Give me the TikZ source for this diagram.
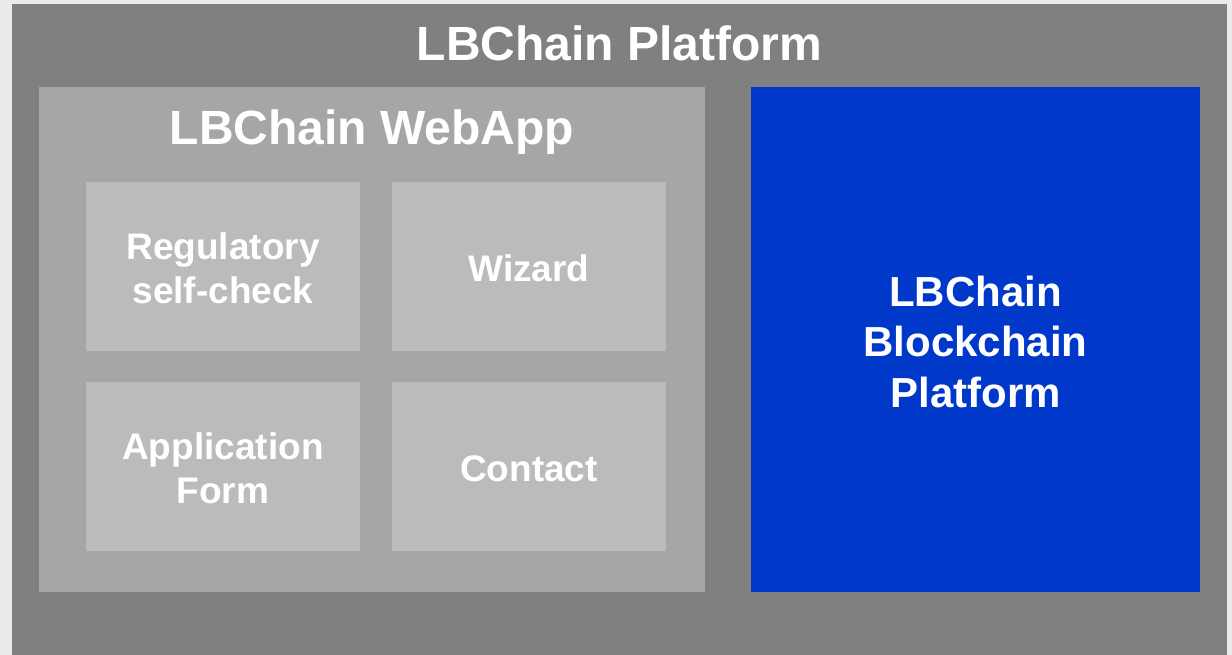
\documentclass[tikz,border=0pt]{standalone}
\usepackage{fontspec}
\setmainfont{Liberation Sans}
\usepackage{tikz}

\definecolor{pagegray}{HTML}{EBEBEB}
\definecolor{platgray}{HTML}{808080}
\definecolor{appgray}{HTML}{A6A6A6}
\definecolor{partgray}{HTML}{BBBBBB}
\definecolor{chainblue}{HTML}{0039C9}

\begin{document}
\begin{tikzpicture}[x=1pt, y=-1pt,
  box/.style={rectangle, inner sep=0, draw=none},
  part/.style={box, fill=partgray, minimum width=274pt, minimum height=169pt},
  parttext/.style={text=white, inner sep=0, align=center, yshift=-2pt, font=\fontsize{37}{44}\selectfont\bfseries},
  title/.style={text=white, inner sep=0, anchor=base, font=\fontsize{48}{58}\selectfont\bfseries}]
        \fill[pagegray] (0, 0) rectangle (1232, 655);
        \useasboundingbox (0, 0) rectangle (1232, 655);

        \node (platform) [box, fill=platgray, minimum width=1215pt, minimum height=651pt] at (619.5, 329.5) {};
        \node (webapp) [box, fill=appgray, minimum width=666pt, minimum height=505pt] at (372, 339.5) {};
        \node (chain) [box, fill=chainblue, minimum width=449pt, minimum height=505pt] at (975.5, 339.5) {};
        \node (chaintext) [parttext, font=\fontsize{42}{50.5}\selectfont\bfseries] at (chain.center) {LBChain\\Blockchain\\Platform};

        \node (platformtitle) [title] at (619.5, 61) {LBChain Platform};
        \node (webapptitle) [title] at (372, 145) {LBChain WebApp};

        \node (check) [part] at (223, 266.5) {};
        \node (wizard) [part] at (529, 266.5) {};
        \node (form) [part] at (223, 466.5) {};
        \node (contact) [part] at (529, 466.5) {};

        \node (checktext) [parttext] at (check.center) {Regulatory\\self-check};
        \node (wizardtext) [parttext] at (wizard.center) {Wizard};
        \node (formtext) [parttext] at (form.center) {Application\\Form};
        \node (contacttext) [parttext] at (contact.center) {Contact};
      \end{tikzpicture}
\end{document}
